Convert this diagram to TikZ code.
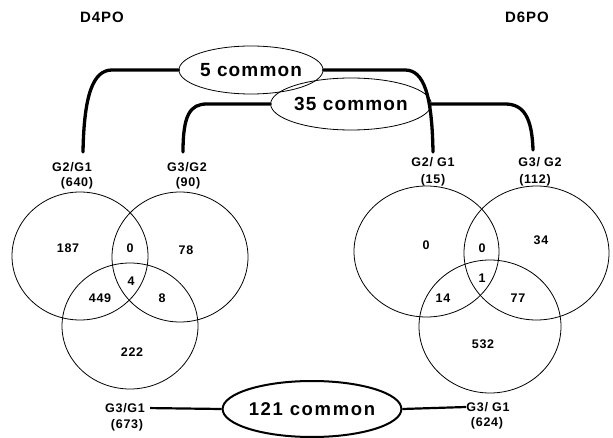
\documentclass[tikz,border=0pt]{standalone}
\usepackage{fontspec}
\setmainfont{Liberation Sans}
\newfontfamily\labfont{Liberation Sans}[LetterSpace=6]
\newfontfamily\comfont{Liberation Sans}[LetterSpace=6]
\newfontfamily\bigcomfont{Liberation Sans}[LetterSpace=9]
\usetikzlibrary{shapes.geometric}
\begin{document}
\begin{tikzpicture}[x=1pt,y=-1pt,
  lbl/.style={inner sep=0pt, font={\fontsize{12.5}{14}\selectfont\labfont\bfseries}},
  ttl/.style={inner sep=0pt, font={\fontsize{15}{17}\selectfont\labfont\bfseries}},
  comell/.style={ellipse, draw, line width=0.8pt, inner sep=0pt,
    font={\fontsize{19}{21}\selectfont\comfont\bfseries}},
  bigell/.style={ellipse, draw, line width=2pt, inner sep=0pt,
    font={\fontsize{18.5}{21}\selectfont\bigcomfont\bfseries}},
  venn/.style={draw, line width=0.8pt},
  num/.style={inner sep=0pt, font={\fontsize{12.5}{14}\selectfont\labfont\bfseries}},
  link/.style={draw, line width=3.3pt, line cap=round},
  blink/.style={draw, line width=2.2pt}]
\useasboundingbox (0,0) rectangle (613,438);

% titles
\node[ttl] (d4) at (102,17) {D4PO};
\node[ttl] (d6) at (527,17) {D6PO};

% left Venn
\draw[venn] (80,256) ellipse [x radius=68, y radius=64];
\draw[venn] (180,257) ellipse [x radius=68, y radius=65];
\draw[venn] (130,326) ellipse [x radius=68, y radius=63];
\node[num] (l187) at (68,248) {187};
\node[num] (l0) at (130,248) {0};
\node[num] (l78) at (186,250) {78};
\node[num] (l4) at (131,281) {4};
\node[num] (l449) at (100,298) {449};
\node[num] (l8) at (162,298) {8};
\node[num] (l222) at (132,352) {222};

% right Venn
\draw[venn] (426.5,251.5) ellipse [x radius=72.5, y radius=65.5];
\draw[venn] (536.5,253) ellipse [x radius=72.5, y radius=67];
\draw[venn] (490,326.5) ellipse [x radius=71, y radius=66.5];
\node[num] (r0a) at (426,245) {0};
\node[num] (r0b) at (482,248) {0};
\node[num] (r34) at (541,240) {34};
\node[num] (r1) at (482,278) {1};
\node[num] (r14) at (443,298) {14};
\node[num] (r77) at (518,298) {77};
\node[num] (r532) at (483,344) {532};

% set labels
\node[lbl] (g21L) at (72,167) {G2/G1};
\node[lbl] (g21Ln) at (77,183) {(640)};
\node[lbl] (g32L) at (187,167) {G3/G2};
\node[lbl] (g32Ln) at (188,183) {(90)};
\node[lbl] (g21R) at (433,162) {G2/ G1};
\node[lbl] (g21Rn) at (433,180) {(15)};
\node[lbl] (g32R) at (540,162) {G3/ G2};
\node[lbl] (g32Rn) at (535,180) {(112)};
\node[lbl] (g31L) at (125,408) {G3/G1};
\node[lbl] (g31Ln) at (127,425) {(673)};
\node[lbl] (g31R) at (488,407) {G3/ G1};
\node[lbl] (g31Rn) at (487,423) {(624)};

% common ellipses
\node[comell, minimum width=122, minimum height=48] (five) at (251,70) {5 common};
\node[comell, minimum width=128, minimum height=52] (thirtyfive) at (351,104) {35 common};
\node[bigell, minimum width=155, minimum height=56] (onetwoone) at (312,409) {121 common};

% line end points above labels
\coordinate (a1) at (83,152);
\coordinate (a2) at (183,152);
\coordinate (b1) at (433,152);
\coordinate (b2) at (533,150);

% connectors
\draw[link] (five.west) -- (112,70) .. controls (93,70) and (84,95) .. (a1);
\draw[link] (five.east) -- (405,70) .. controls (424,70) and (432,95) .. (b1);
\draw[link] (thirtyfive.west) -- (207,104) .. controls (190,104) and (183,115) .. (a2);
\draw[link] (thirtyfive.east) -- (505,104) .. controls (524,104) and (532,118) .. (b2);
\draw[blink, shorten <=5pt] (g31L.east) -- (onetwoone.west);
\draw[blink] (onetwoone.east) -- (g31R.west);
\end{tikzpicture}
\end{document}
